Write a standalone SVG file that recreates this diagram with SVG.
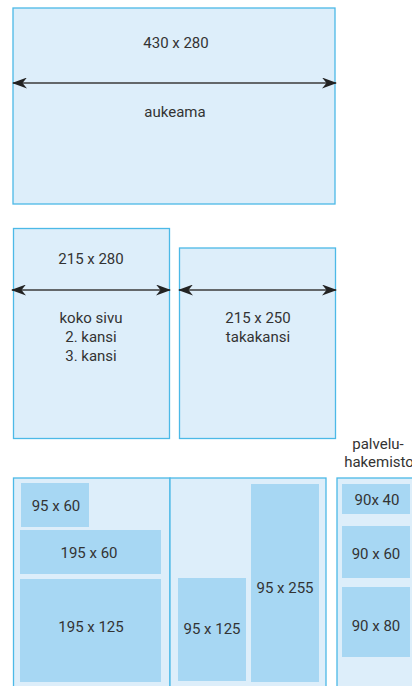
<svg xmlns="http://www.w3.org/2000/svg" width="412" height="686" viewBox="0 0 412 686">
<style>
.page{fill:#ddeefa;stroke:#4cb9e7;stroke-width:1.3}
.ad{fill:#a7d7f3;stroke:none}
text{font-family:Roboto,"Liberation Sans",sans-serif;font-size:15px;fill:#333;text-anchor:middle}
.arr{stroke:#3a3a3a;stroke-width:1.6;fill:none;marker-start:url(#ah);marker-end:url(#ah)}
</style>
<defs>
<marker id="ah" viewBox="0 0 15 11" refX="14" refY="5.5" markerWidth="15" markerHeight="11" markerUnits="userSpaceOnUse" orient="auto-start-reverse">
<path d="M0,0 L15,5.5 L0,11 L4.5,5.5 z" fill="#222"/>
</marker>
</defs>
<rect width="412" height="686" fill="#fff"/>
<g id="aukeama">
<rect class="page" x="13" y="8" width="322" height="196"/>
<text x="176" y="48">430 x 280</text>
<text x="175" y="117">aukeama</text>
</g>
<g id="kokosivu">
<rect class="page" x="13.5" y="228.5" width="156" height="210"/>
<text x="91" y="264">215 x 280</text>
<text x="91" y="323">koko sivu</text>
<text x="91" y="342">2. kansi</text>
<text x="91" y="361">3. kansi</text>
</g>
<g id="takakansi">
<rect class="page" x="179.5" y="248" width="156" height="190.5"/>
<text x="258" y="323">215 x 250</text>
<text x="258" y="342">takakansi</text>
</g>
<g id="aukeama-ads">
<rect class="page" x="13.5" y="478" width="156.5" height="215"/>
<rect class="page" x="170" y="478" width="156" height="215"/>
<rect class="ad" x="21" y="483" width="68" height="44"/>
<text x="56" y="511">95 x 60</text>
<rect class="ad" x="20" y="530" width="141" height="44"/>
<text x="89" y="558">195 x 60</text>
<rect class="ad" x="20" y="579" width="141" height="103"/>
<text x="91" y="632">195 x 125</text>
<rect class="ad" x="178" y="578" width="68" height="103"/>
<text x="212" y="634">95 x 125</text>
<rect class="ad" x="251" y="484" width="68" height="198"/>
<text x="285" y="593">95 x 255</text>
</g>
<g id="palveluhakemisto">
<text x="378" y="449">palvelu-</text>
<text x="379" y="467">hakemisto</text>
<rect class="page" x="337" y="478" width="90" height="215"/>
<rect class="ad" x="342" y="484" width="68" height="30"/>
<text x="377" y="505">90x 40</text>
<rect class="ad" x="342" y="526" width="68" height="52"/>
<text x="376" y="559">90 x 60</text>
<rect class="ad" x="342" y="587" width="68" height="70"/>
<text x="376" y="631">90 x 80</text>
</g>
<g id="connectors">
<line class="arr" x1="13" y1="83" x2="336" y2="83"/>
<line class="arr" x1="12" y1="290" x2="170" y2="290"/>
<line class="arr" x1="179" y1="290" x2="336" y2="290"/>
</g>
</svg>
